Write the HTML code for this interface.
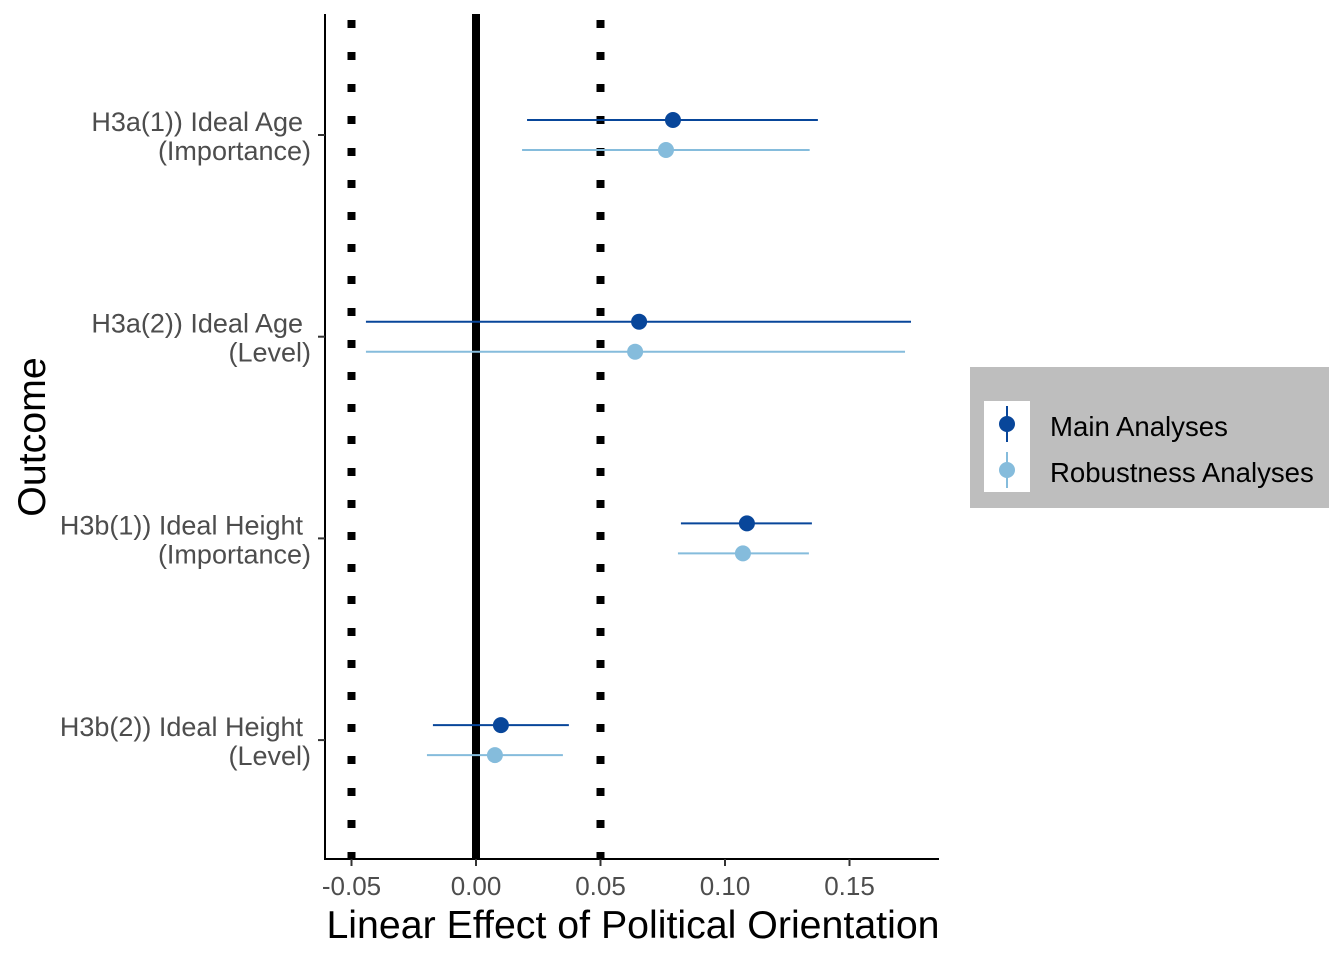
<!DOCTYPE html>
<html><head><meta charset="utf-8"><style>
html,body{margin:0;padding:0;background:#fff;}
svg{display:block;font-family:"Liberation Sans",Arial,sans-serif;}
</style></head><body>
<svg id="chart" width="1344" height="960" viewBox="0 0 1344 960">
<defs><clipPath id="pc"><rect x="325" y="14" width="614" height="845"/></clipPath></defs>
<g id="panel" clip-path="url(#pc)"></g>
<g id="axes"></g>
<g>
<rect x="970" y="367" width="359" height="141" fill="#bebebe"/>
<rect x="984" y="401" width="46" height="91" fill="#fff"/>
<line x1="1007" y1="406" x2="1007" y2="442" stroke="#08469a" stroke-width="2"/>
<circle cx="1007" cy="424" r="8" fill="#08469a"/>
<line x1="1007" y1="452" x2="1007" y2="488" stroke="#85bcdc" stroke-width="2"/>
<circle cx="1007" cy="470" r="8" fill="#85bcdc"/>
<text x="1050" y="436" font-size="27.6" fill="#000">Main Analyses</text>
<text x="1050" y="482" font-size="27.6" fill="#000">Robustness Analyses</text>
</g>
<text x="633" y="938" font-size="39.3" text-anchor="middle" fill="#000">Linear Effect of Political Orientation</text>
<text transform="translate(45,437) rotate(-90)" font-size="39.3" text-anchor="middle" fill="#000">Outcome</text>
</svg>
<script>
const categories = [["H3a(1)) Ideal Age","(Importance)"],["H3a(2)) Ideal Age","(Level)"],["H3b(1)) Ideal Height","(Importance)"],["H3b(2)) Ideal Height","(Level)"]];
const mainEst = [0.0791, 0.0655, 0.1088, 0.0100];
const mainLo = [0.0205, -0.0442, 0.0823, -0.0173];
const mainHi = [0.1373, 0.1747, 0.1349, 0.0373];
const robEst = [0.0763, 0.0639, 0.1072, 0.0076];
const robLo = [0.0185, -0.0442, 0.0811, -0.0197];
const robHi = [0.1340, 0.1723, 0.1337, 0.0349];
const xTicks = [-0.05, 0, 0.05, 0.10, 0.15];
const xTickLabels = ["-0.05","0.00","0.05","0.10","0.15"];
const refDotted = [-0.05, 0.05];
const refSolid = [0];

const NS="http://www.w3.org/2000/svg";
const x = v => 476 + v*2490;
const y = i => 135 + i*201.7;
function mk(tag, attrs, parent){const e=document.createElementNS(NS,tag);for(const k in attrs)e.setAttribute(k,attrs[k]);parent.appendChild(e);return e;}
const panel=document.getElementById('panel'), axes=document.getElementById('axes');

refDotted.forEach(v=>{
  for(let yy=20; yy<862; yy+=32){
    const r=mk('rect',{x:x(v)-4,y:yy,width:8,height:8,fill:'#000'},panel);
    
    
  }
});
refSolid.forEach(v=>{
  const l=mk('line',{x1:x(v),x2:x(v),y1:14,y2:859,stroke:'#000','stroke-width':8},panel);
  
  
});
function series(est,lo,hi,off,color,name){
  est.forEach((v,i)=>{
    const yy=y(i)+off;
    const l=mk('line',{x1:x(lo[i]),x2:x(hi[i]),y1:yy,y2:yy,stroke:color,'stroke-width':2},panel);
    
    
    const c=mk('circle',{cx:x(v),cy:yy,r:8,fill:color},panel);
    
    
  });
}
series(mainEst,mainLo,mainHi,-15,'#08469a','main');
series(robEst,robLo,robHi,15,'#85bcdc','robustness');

const ax=mk('line',{x1:325,x2:325,y1:14,y2:859,stroke:'#000','stroke-width':2},axes);


const bx=mk('line',{x1:324,x2:939,y1:859,y2:859,stroke:'#000','stroke-width':2},axes);


xTicks.forEach((v,i)=>{
  mk('line',{x1:x(v),x2:x(v),y1:859,y2:866,stroke:'#333','stroke-width':2},axes);
  const t=mk('text',{x:x(v),y:895,'font-size':26,'text-anchor':'middle',fill:'#4d4d4d'},axes);
  t.textContent=xTickLabels[i];
  
  
});
categories.forEach((c,i)=>{
  mk('line',{x1:318,x2:325,y1:y(i),y2:y(i),stroke:'#333','stroke-width':2},axes);
  const t1=mk('text',{x:303,y:y(i)-4,'font-size':27,'text-anchor':'end',fill:'#4d4d4d'},axes);
  t1.textContent=c[0];
  
  
  const t2=mk('text',{x:311,y:y(i)+25,'font-size':27,'text-anchor':'end',fill:'#4d4d4d'},axes);
  t2.textContent=c[1];
  
  
});
</script>
</body></html>
